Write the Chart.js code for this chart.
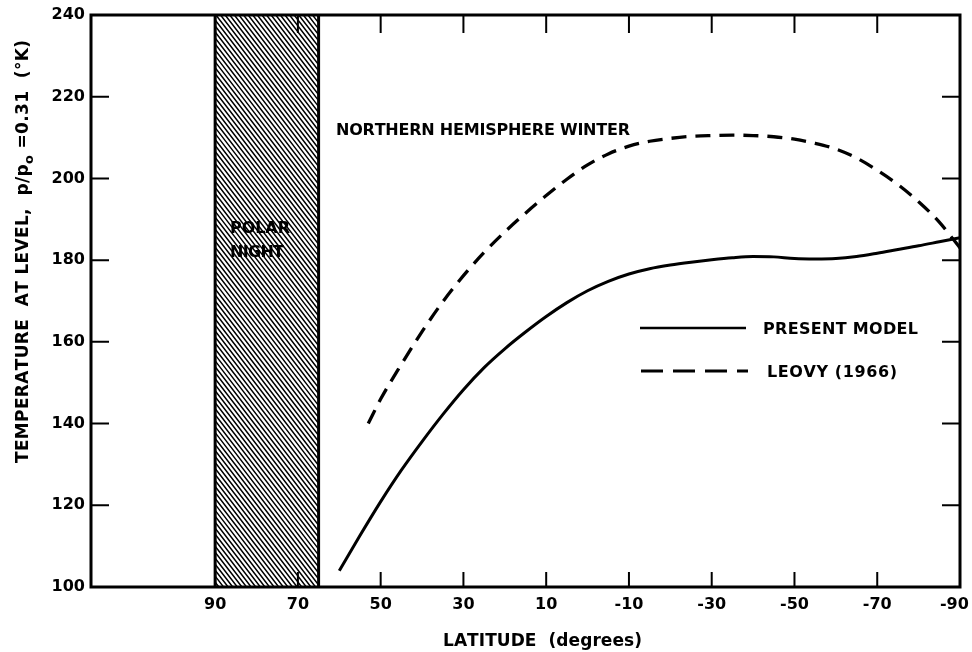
<!DOCTYPE html>
<html>
<head>
<meta charset="utf-8">
<script src="https://cdn.jsdelivr.net/npm/chart.js@4/dist/chart.umd.min.js"></script>
<style>
  html, body { margin: 0; padding: 0; background: #ffffff; }
  #wrap { width: 972px; height: 652px; }
</style>
</head>
<body>
<div id="wrap"><canvas id="c" width="972" height="652"></canvas></div>
<script>
// ---- Data ----
const xTickValues = [90, 70, 50, 30, 10, -10, -30, -50, -70, -90];
const yTickValues = [100, 120, 140, 160, 180, 200, 220, 240];

const presentLat  = [60, 55, 50, 45, 40, 35, 30, 25, 20, 15, 10, 5, 0, -5, -10, -15, -20, -25, -30, -35, -40, -45, -50, -55, -60, -65, -70, -75, -80, -85, -90];
const presentTemp = [104, 112.6, 120.9, 128.6, 135.6, 142.2, 148.3, 153.7, 158.3, 162.4, 166.2, 169.6, 172.5, 174.8, 176.6, 177.9, 178.8, 179.5, 180.1, 180.6, 180.9, 180.8, 180.4, 180.3, 180.4, 180.9, 181.7, 182.6, 183.5, 184.5, 185.5];

const leovyLat  = [53, 50, 45, 40, 35, 30, 25, 20, 15, 10, 5, 0, -5, -10, -15, -20, -25, -30, -35, -40, -45, -50, -55, -60, -65, -70, -75, -80, -85, -90];
const leovyTemp = [140, 146, 154.5, 162.5, 169.8, 176.2, 181.9, 186.9, 191.5, 195.8, 199.8, 203.3, 206, 207.9, 209.1, 209.8, 210.3, 210.5, 210.6, 210.5, 210.2, 209.6, 208.6, 207.2, 205, 202, 198.5, 194.3, 189.3, 183];

const polarNight = [90, 65];           // latitude range of the hatched band
const seriesNames = ['PRESENT MODEL', 'LEOVY (1966)'];
const noteText = 'NORTHERN HEMISPHERE WINTER';
const xTitle = 'LATITUDE  (degrees)';

const FONT = '"DejaVu Sans", "Liberation Sans", sans-serif';

function toPoints(xs, ys) { return xs.map((v, i) => ({ x: v, y: ys[i] })); }

// draw text char-by-char spread to a target width
function drawSpread(ctx, parts, x0, baseY, targetW) {
  let natural = 0, n = 0;
  parts.forEach(p => {
    ctx.font = p.font;
    for (const ch of p.t) { natural += ctx.measureText(ch).width; n++; }
  });
  const sp = n > 1 ? (targetW - natural) / (n - 1) : 0;
  let x = x0;
  parts.forEach(p => {
    ctx.font = p.font;
    for (const ch of p.t) {
      ctx.fillText(ch, x, baseY + (p.dy || 0));
      x += ctx.measureText(ch).width + sp;
    }
  });
}

const overlay = {
  id: 'overlay',
  beforeDatasetsDraw(chart) {
    const { ctx, chartArea: a, scales: { x } } = chart;
    const xa = x.getPixelForValue(polarNight[0]);
    const xb = x.getPixelForValue(polarNight[1]);
    const left = Math.min(xa, xb), right = Math.max(xa, xb);
    const H = a.bottom - a.top;
    ctx.save();
    ctx.beginPath();
    ctx.rect(left, a.top, right - left, H);
    ctx.clip();
    ctx.strokeStyle = '#000';
    ctx.lineWidth = 1.5;
    const run = H / 1.3;
    ctx.beginPath();
    for (let k = left - run - 10; k < right + 10; k += 4.6) {
      ctx.moveTo(k, a.top);
      ctx.lineTo(k + run, a.bottom);
    }
    ctx.stroke();
    ctx.restore();

    // band borders
    ctx.save();
    ctx.strokeStyle = '#000';
    ctx.lineWidth = 3;
    ctx.beginPath();
    ctx.moveTo(left, a.top); ctx.lineTo(left, a.bottom);
    ctx.moveTo(right, a.top); ctx.lineTo(right, a.bottom);
    ctx.stroke();

    // POLAR NIGHT label
    ctx.fillStyle = '#000';
    ctx.textBaseline = 'alphabetic';
    ctx.textAlign = 'left';
    const f = 'bold 16px ' + FONT;
    drawSpread(ctx, [{ t: 'POLAR', font: f }], 230, 233, 60);
    drawSpread(ctx, [{ t: 'NIGHT', font: f }], 230, 257, 54);
    ctx.restore();
  },
  afterDraw(chart) {
    const { ctx, chartArea: a, scales: { x, y } } = chart;
    ctx.save();
    ctx.strokeStyle = '#000';
    ctx.lineCap = 'butt';

    // inward ticks
    ctx.lineWidth = 2;
    ctx.beginPath();
    yTickValues.forEach(v => {
      if (v === 100 || v === 240) return;
      const py = y.getPixelForValue(v);
      ctx.moveTo(a.left, py); ctx.lineTo(a.left + 18, py);
      ctx.moveTo(a.right, py); ctx.lineTo(a.right - 18, py);
    });
    xTickValues.forEach(v => {
      const px = x.getPixelForValue(v);
      if (Math.abs(px - a.right) < 2) return;
      ctx.moveTo(px, a.bottom); ctx.lineTo(px, a.bottom - 15);
      ctx.moveTo(px, a.top); ctx.lineTo(px, a.top + 18);
    });
    ctx.stroke();

    // frame
    ctx.lineWidth = 3;
    ctx.strokeRect(a.left, a.top, a.right - a.left, a.bottom - a.top);

    // texts
    ctx.fillStyle = '#000';
    ctx.textAlign = 'left';
    ctx.textBaseline = 'alphabetic';
    const f17 = 'bold 17px ' + FONT;
    const f16 = 'bold 16px ' + FONT;
    drawSpread(ctx, [{ t: noteText, font: f16 }], 336, 135, 294);
    drawSpread(ctx, [{ t: xTitle, font: f17 }], 443, 646, 199);

    // legend
    ctx.lineWidth = 2.6;
    ctx.beginPath();
    ctx.moveTo(640, 328); ctx.lineTo(746, 328);
    ctx.stroke();
    ctx.lineWidth = 3;
    ctx.setLineDash([22, 10]);
    ctx.beginPath();
    ctx.moveTo(641, 371); ctx.lineTo(748, 371);
    ctx.stroke();
    ctx.setLineDash([]);
    drawSpread(ctx, [{ t: seriesNames[0], font: f16 }], 763, 334, 155);
    drawSpread(ctx, [{ t: seriesNames[1], font: f16 }], 767, 377, 130);

    // y-axis title (rotated)
    ctx.translate(28, 463);
    ctx.rotate(-Math.PI / 2);
    drawSpread(ctx, [
      { t: 'TEMPERATURE  AT LEVEL,  p/p', font: f17 },
      { t: 'o', font: 'bold 13px ' + FONT, dy: 5 },
      { t: ' =0.31  (°K)', font: f17 }
    ], 0, 0, 423);
    ctx.restore();
  }
};

const chart = new Chart(document.getElementById('c'), {
  type: 'line',
  data: {
    datasets: [
      {
        label: seriesNames[0],
        data: toPoints(presentLat, presentTemp),
        borderColor: '#000',
        borderWidth: 3,
        pointRadius: 0,
        fill: false,
        cubicInterpolationMode: 'monotone'
      },
      {
        label: seriesNames[1],
        data: toPoints(leovyLat, leovyTemp),
        borderColor: '#000',
        borderWidth: 3.3,
        borderDash: [15, 9],
        pointRadius: 0,
        fill: false,
        cubicInterpolationMode: 'monotone'
      }
    ]
  },
  options: {
    responsive: false,
    devicePixelRatio: 1,
    animation: false,
    layout: { padding: { left: 0, top: 15, right: 12, bottom: 0 } },
    plugins: { legend: { display: false }, tooltip: { enabled: false } },
    scales: {
      x: {
        type: 'linear',
        reverse: true,
        min: -90,
        max: 120,
        afterBuildTicks: s => { s.ticks = xTickValues.map(v => ({ value: v })); },
        afterFit: s => { s.height = 65; s.paddingLeft = 0; s.paddingRight = 0; },
        grid: { display: false, drawTicks: false },
        border: { display: false },
        ticks: {
          color: '#000',
          padding: 8,
          maxRotation: 0,
          autoSkip: false,
          font: { family: FONT, size: 16, weight: 'bold' },
          callback: v => (v === -90 ? String(v) + '  ' : String(v))
        }
      },
      y: {
        type: 'linear',
        min: 100,
        max: 240,
        afterBuildTicks: s => { s.ticks = yTickValues.map(v => ({ value: v })); },
        afterFit: s => { s.width = 91; s.paddingTop = 0; s.paddingBottom = 0; },
        grid: { display: false, drawTicks: false },
        border: { display: false },
        ticks: {
          color: '#000',
          padding: 6,
          autoSkip: false,
          font: { family: FONT, size: 16, weight: 'bold' },
          callback: v => String(v)
        }
      }
    }
  },
  plugins: [overlay]
});
</script>
</body>
</html>
